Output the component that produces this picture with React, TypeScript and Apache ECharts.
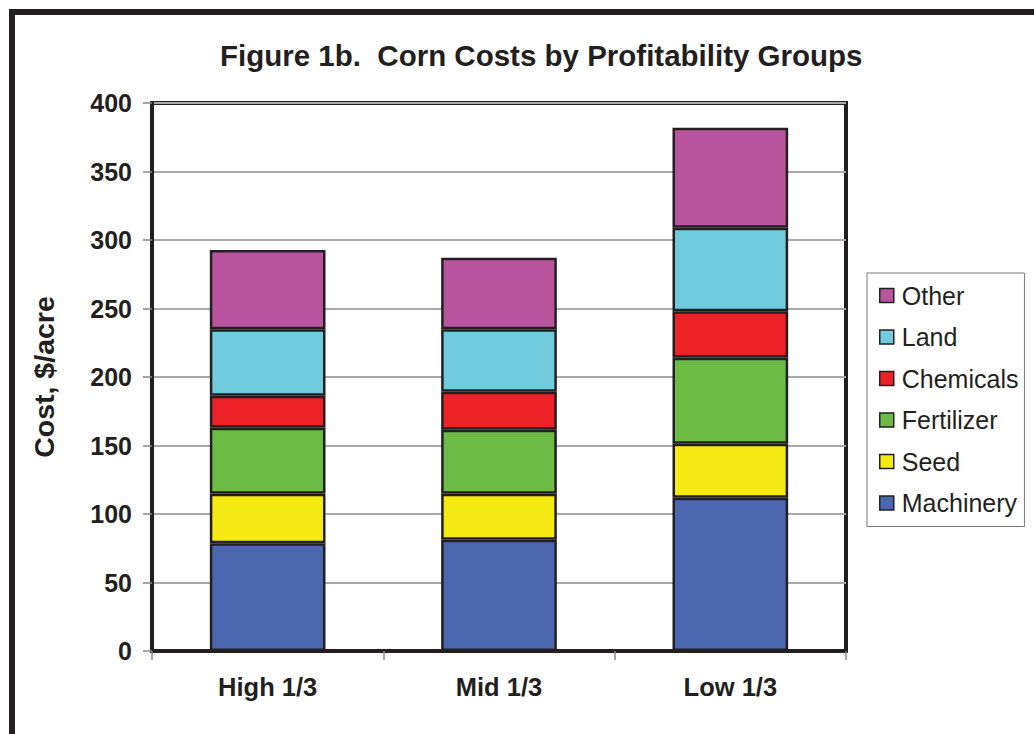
import React, { useEffect, useRef } from "react";
import * as echarts from "echarts";

const categories = ["High 1/3", "Mid 1/3", "Low 1/3"];
const machinery = [78.6, 81.2, 111.9];
const seed = [36.2, 33.6, 39.4];
const fertilizer = [48.2, 46.7, 62.8];
const chemicals = [23.4, 27.8, 33.9];
const land = [48.4, 45.5, 61.0];
const other = [57.9, 52.3, 73.0];
const yTicks = [0, 50, 100, 150, 200, 250, 300, 350, 400];

const seriesDefs = [
  { name: "Machinery", data: machinery, color: "#4a67b0" },
  { name: "Seed", data: seed, color: "#f5ea14" },
  { name: "Fertilizer", data: fertilizer, color: "#6cbb45" },
  { name: "Chemicals", data: chemicals, color: "#ec2227" },
  { name: "Land", data: land, color: "#70ccdd" },
  { name: "Other", data: other, color: "#b8559e" },
];

const FONT = "'Liberation Sans', Arial, Helvetica, sans-serif";
const DARK = "#231f20";

export default function App() {
  const ref = useRef<HTMLDivElement>(null);
  useEffect(() => {
    if (!ref.current) return;
    const chart = echarts.init(ref.current, undefined, { renderer: "svg" });
    chart.setOption({
      animation: false,
      backgroundColor: "#ffffff",
      title: {
        text: "Figure 1b.  Corn Costs by Profitability Groups",
        left: 215,
        top: 35,
        textStyle: { fontFamily: FONT, fontWeight: "bold", fontSize: 29.5, color: DARK },
      },
      graphic: [
        {
          type: "rect",
          shape: { x: 12, y: 12, width: 1100, height: 800 },
          style: { fill: "none", stroke: DARK, lineWidth: 6 },
          silent: true,
        },
      ],
      legend: {
        orient: "vertical",
        left: 867,
        top: 273,
        padding: [10, 6, 11, 12],
        itemGap: 16.5,
        itemWidth: 14,
        itemHeight: 14,
        icon: "rect",
        borderColor: "#777777",
        borderWidth: 1,
        data: ["Other", "Land", "Chemicals", "Fertilizer", "Seed", "Machinery"],
        itemStyle: { borderColor: DARK, borderWidth: 1.5 },
        textStyle: { fontFamily: FONT, fontSize: 25, color: DARK, padding: [0, 0, 0, 3] },
      },
      grid: {
        left: 152,
        top: 103,
        right: 188,
        bottom: 83,
        show: true,
        borderColor: DARK,
        borderWidth: 4,
      },
      xAxis: {
        type: "category",
        data: categories,
        axisLine: { show: true, lineStyle: { color: DARK, width: 4 } },
        axisTick: { show: true, length: 9, lineStyle: { color: "#888888", width: 1.5 } },
        axisLabel: {
          margin: 23,
          fontFamily: FONT,
          fontWeight: "bold",
          fontSize: 25.5,
          color: DARK,
        },
      },
      yAxis: {
        type: "value",
        min: yTicks[0],
        max: yTicks[yTicks.length - 1],
        interval: 50,
        name: "Cost, $/acre",
        nameLocation: "middle",
        nameGap: 94,
        nameTextStyle: { fontFamily: FONT, fontWeight: "bold", fontSize: 28.5, color: DARK },
        axisLine: { show: true, lineStyle: { color: DARK, width: 4 } },
        axisTick: { show: true, length: 9, lineStyle: { color: "#888888", width: 1.5 } },
        axisLabel: {
          margin: 20,
          fontFamily: FONT,
          fontWeight: "bold",
          fontSize: 25,
          color: DARK,
        },
        splitLine: { show: true, lineStyle: { color: "#a7a9ac", width: 2 } },
      },
      series: seriesDefs.map((s) => ({
        name: s.name,
        type: "bar",
        stack: "total",
        data: s.data,
        barWidth: "50%",
        itemStyle: { color: s.color, borderColor: DARK, borderWidth: 2.5 },
      })),
    });
    return () => chart.dispose();
  }, []);
  return (
    <div
      ref={ref}
      style={{ position: "fixed", left: 0, top: 0, width: 1034, height: 734, background: "#fff" }}
    />
  );
}
